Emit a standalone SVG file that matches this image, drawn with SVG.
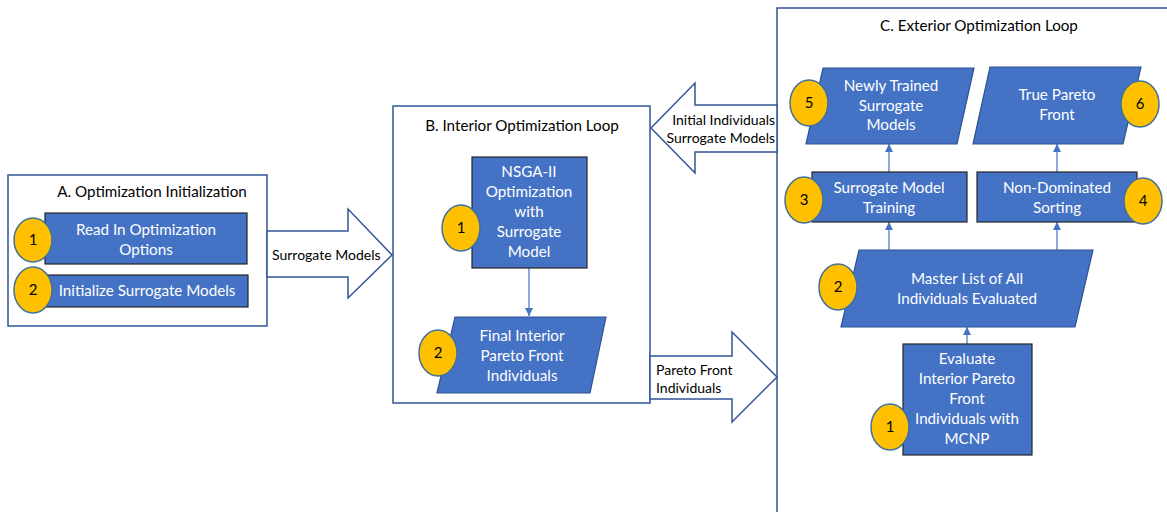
<svg xmlns="http://www.w3.org/2000/svg" width="1167" height="512" viewBox="0 0 1167 512">
  <defs>
    <style>
      .frame { fill: #ffffff; stroke: #2f5597; stroke-width: 1.5; }
      .block { fill: #ffffff; stroke: #2f5597; stroke-width: 1.5; stroke-linejoin: miter; }
      .proc { fill: #4472c4; stroke: #262626; stroke-width: 1.2; }
      .data { fill: #4472c4; stroke: #2f528f; stroke-width: 1.2; }
      .badge { fill: #ffc000; stroke: #41719c; stroke-width: 1.5; }
      .title { font-family: Lato, "Liberation Sans", sans-serif; font-size: 15.2px; fill: #000000; text-anchor: middle; }
      .lbl { font-family: Lato, "Liberation Sans", sans-serif; font-size: 14px; fill: #000000; }
      .ntext { font-family: Lato, "Liberation Sans", sans-serif; font-size: 15.2px; fill: #ffffff; text-anchor: middle; }
      .num { font-family: Lato, "Liberation Sans", sans-serif; font-size: 15px; fill: #000000; text-anchor: middle; }
      .conn { stroke: #4472c4; stroke-width: 1.2; fill: none; marker-end: url(#tip); }
    </style>
    <marker id="tip" viewBox="0 0 10 10" refX="10" refY="5" markerWidth="8" markerHeight="8" markerUnits="userSpaceOnUse" orient="auto">
      <path d="M0,0 L10,5 L0,10 z" fill="#4472c4"/>
    </marker>
  </defs>

  <!-- Stage frames -->
  <g id="frame-a">
    <rect class="frame" x="8" y="175" width="259" height="151"/>
    <text class="title" x="152" y="197">A. Optimization Initialization</text>
  </g>
  <g id="frame-b">
    <rect class="frame" x="393" y="106" width="257" height="297"/>
    <text class="title" x="522" y="131">B. Interior Optimization Loop</text>
  </g>
  <g id="frame-c">
    <rect class="frame" x="777" y="8" width="400" height="520"/>
    <text class="title" x="979" y="31">C. Exterior Optimization Loop</text>
  </g>

  <!-- Block arrows between stages -->
  <g id="flow-a-b">
    <polygon class="block" points="267,231 348,231 348,209 392,255 348,298 348,277 267,277"/>
    <text class="lbl" x="272" y="260">Surrogate Models</text>
  </g>
  <g id="flow-c-b">
    <polygon class="block" points="777,105 695,105 695,83 651,128 695,173 695,152 777,152"/>
    <text class="lbl" x="775" y="125" text-anchor="end">Initial Individuals</text>
    <text class="lbl" x="775" y="143" text-anchor="end">Surrogate Models</text>
  </g>
  <g id="flow-b-c">
    <polygon class="block" points="650,356 732,356 732,332 777,377 732,422 732,399 650,399"/>
    <text class="lbl" x="656" y="375">Pareto Front</text>
    <text class="lbl" x="656" y="393">Individuals</text>
  </g>

  <!-- Connectors -->
  <g id="connectors">
    <line class="conn" x1="529" y1="268" x2="529" y2="316"/>
    <line class="conn" x1="967" y1="344" x2="967" y2="327"/>
    <line class="conn" x1="889" y1="250" x2="889" y2="222"/>
    <line class="conn" x1="1057" y1="250" x2="1057" y2="222"/>
    <line class="conn" x1="889" y1="172" x2="889" y2="144"/>
    <line class="conn" x1="1057" y1="172" x2="1057" y2="144"/>
  </g>

  <!-- Stage A nodes -->
  <g id="a1">
    <rect class="proc" x="45" y="213" width="202" height="51"/>
    <text class="ntext" x="146" y="235">Read In Optimization</text>
    <text class="ntext" x="146" y="255">Options</text>
    <ellipse class="badge" cx="33" cy="240" rx="19" ry="22"/>
    <text class="num" x="33" y="245">1</text>
  </g>
  <g id="a2">
    <rect class="proc" x="45" y="275" width="203" height="32"/>
    <text class="ntext" x="147" y="296">Initialize Surrogate Models</text>
    <ellipse class="badge" cx="33" cy="290" rx="19" ry="23"/>
    <text class="num" x="33" y="295">2</text>
  </g>

  <!-- Stage B nodes -->
  <g id="b1">
    <rect class="proc" x="472" y="157" width="115" height="111"/>
    <text class="ntext" x="529" y="177">NSGA-II</text>
    <text class="ntext" x="529" y="197">Optimization</text>
    <text class="ntext" x="529" y="217">with</text>
    <text class="ntext" x="529" y="237">Surrogate</text>
    <text class="ntext" x="529" y="257">Model</text>
    <ellipse class="badge" cx="461" cy="228" rx="19" ry="23"/>
    <text class="num" x="461" y="233">1</text>
  </g>
  <g id="b2">
    <polygon class="data" points="455,317 606,317 590,393 437,393"/>
    <text class="ntext" x="522" y="341">Final Interior</text>
    <text class="ntext" x="522" y="361">Pareto Front</text>
    <text class="ntext" x="522" y="381">Individuals</text>
    <ellipse class="badge" cx="438" cy="353" rx="19" ry="23"/>
    <text class="num" x="438" y="358">2</text>
  </g>

  <!-- Stage C nodes -->
  <g id="c1">
    <rect class="proc" x="903" y="344" width="129" height="111"/>
    <text class="ntext" x="967" y="364">Evaluate</text>
    <text class="ntext" x="967" y="384">Interior Pareto</text>
    <text class="ntext" x="967" y="404">Front</text>
    <text class="ntext" x="967" y="424">Individuals with</text>
    <text class="ntext" x="967" y="444">MCNP</text>
    <ellipse class="badge" cx="890" cy="427" rx="19" ry="23"/>
    <text class="num" x="890" y="432">1</text>
  </g>
  <g id="c2">
    <polygon class="data" points="859,250 1093,250 1075,327 841,327"/>
    <text class="ntext" x="967" y="284">Master List of All</text>
    <text class="ntext" x="967" y="304">Individuals Evaluated</text>
    <ellipse class="badge" cx="838" cy="287" rx="19" ry="23"/>
    <text class="num" x="838" y="292">2</text>
  </g>
  <g id="c3">
    <rect class="proc" x="812" y="172" width="155" height="50"/>
    <text class="ntext" x="889" y="193">Surrogate Model</text>
    <text class="ntext" x="889" y="213">Training</text>
    <ellipse class="badge" cx="804" cy="200" rx="19" ry="23"/>
    <text class="num" x="804" y="205">3</text>
  </g>
  <g id="c4">
    <rect class="proc" x="977" y="172" width="160" height="50"/>
    <text class="ntext" x="1057" y="193">Non-Dominated</text>
    <text class="ntext" x="1057" y="213">Sorting</text>
    <ellipse class="badge" cx="1143" cy="201" rx="19" ry="23"/>
    <text class="num" x="1143" y="206">4</text>
  </g>
  <g id="c5">
    <polygon class="data" points="823,68 974,68 957,144 806,144"/>
    <text class="ntext" x="891" y="91">Newly Trained</text>
    <text class="ntext" x="891" y="111">Surrogate</text>
    <text class="ntext" x="891" y="130">Models</text>
    <ellipse class="badge" cx="809" cy="103" rx="19" ry="23"/>
    <text class="num" x="809" y="108">5</text>
  </g>
  <g id="c6">
    <polygon class="data" points="990,67 1141,67 1123,144 973,144"/>
    <text class="ntext" x="1057" y="100">True Pareto</text>
    <text class="ntext" x="1057" y="120">Front</text>
    <ellipse class="badge" cx="1140" cy="104" rx="19" ry="23"/>
    <text class="num" x="1140" y="109">6</text>
  </g>
</svg>
